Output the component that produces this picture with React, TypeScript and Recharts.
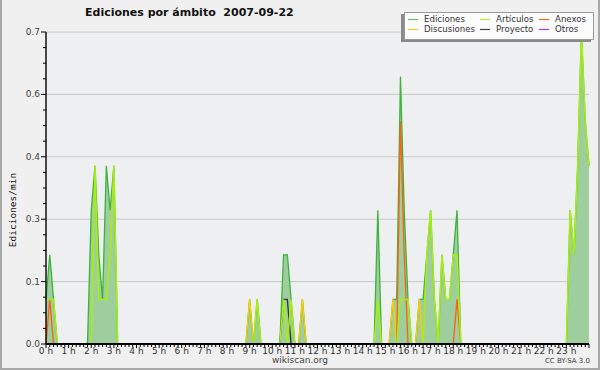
import { ComposedChart, Area, Line, XAxis, YAxis, CartesianGrid } from "recharts";

// one point every 10 minutes, 0 h .. 24 h
const TIMES = Array.from({ length: 145 }, (_, i) => i * 10);

// edits per minute, 12 points (2 hours) per row
const EDICIONES = [
  0.1, 0.2, 0.1, 0, 0, 0, 0, 0, 0, 0, 0, 0,
  0.3, 0.4, 0.2, 0.1, 0.4, 0.3, 0.4, 0, 0, 0, 0, 0,
  0, 0, 0, 0, 0, 0, 0, 0, 0, 0, 0, 0,
  0, 0, 0, 0, 0, 0, 0, 0, 0, 0, 0, 0,
  0, 0, 0, 0, 0, 0, 0.1, 0, 0.1, 0, 0, 0,
  0, 0, 0, 0.2, 0.2, 0.1, 0, 0, 0.1, 0, 0, 0,
  0, 0, 0, 0, 0, 0, 0, 0, 0, 0, 0, 0,
  0, 0, 0, 0, 0.3, 0, 0, 0, 0.1, 0.1, 0.6, 0.3,
  0.1, 0, 0, 0.1, 0.1, 0.2, 0.3, 0.1, 0, 0.2, 0.1, 0.1,
  0.2, 0.3, 0, 0, 0, 0, 0, 0, 0, 0, 0, 0,
  0, 0, 0, 0, 0, 0, 0, 0, 0, 0, 0, 0,
  0, 0, 0, 0, 0, 0, 0, 0.3, 0.2, 0.4, 0.7, 0.5,
  0.4,
];

const ARTICULOS = [
  0.1, 0.1, 0.1, 0, 0, 0, 0, 0, 0, 0, 0, 0,
  0, 0.4, 0.1, 0.1, 0.1, 0.2, 0.4, 0, 0, 0, 0, 0,
  0, 0, 0, 0, 0, 0, 0, 0, 0, 0, 0, 0,
  0, 0, 0, 0, 0, 0, 0, 0, 0, 0, 0, 0,
  0, 0, 0, 0, 0, 0, 0, 0, 0.1, 0, 0, 0,
  0, 0, 0, 0.1, 0, 0.1, 0, 0, 0, 0, 0, 0,
  0, 0, 0, 0, 0, 0, 0, 0, 0, 0, 0, 0,
  0, 0, 0, 0, 0.1, 0, 0, 0, 0, 0, 0.1, 0.1,
  0.1, 0, 0, 0, 0, 0.2, 0.3, 0.1, 0, 0.2, 0.1, 0.1,
  0.2, 0.2, 0, 0, 0, 0, 0, 0, 0, 0, 0, 0,
  0, 0, 0, 0, 0, 0, 0, 0, 0, 0, 0, 0,
  0, 0, 0, 0, 0, 0, 0, 0.3, 0.2, 0.4, 0.7, 0.5,
  0.4,
];

const ANEXOS = [
  0, 0.1, 0, 0, 0, 0, 0, 0, 0, 0, 0, 0,
  0, 0, 0, 0, 0, 0, 0, 0, 0, 0, 0, 0,
  0, 0, 0, 0, 0, 0, 0, 0, 0, 0, 0, 0,
  0, 0, 0, 0, 0, 0, 0, 0, 0, 0, 0, 0,
  0, 0, 0, 0, 0, 0, 0, 0, 0, 0, 0, 0,
  0, 0, 0, 0, 0, 0, 0, 0, 0, 0, 0, 0,
  0, 0, 0, 0, 0, 0, 0, 0, 0, 0, 0, 0,
  0, 0, 0, 0, 0, 0, 0, 0, 0, 0, 0.5, 0.2,
  0, 0, 0, 0, 0, 0, 0, 0, 0, 0, 0, 0,
  0, 0.1, 0, 0, 0, 0, 0, 0, 0, 0, 0, 0,
  0, 0, 0, 0, 0, 0, 0, 0, 0, 0, 0, 0,
  0, 0, 0, 0, 0, 0, 0, 0, 0, 0, 0, 0,
  0,
];

const DISCUSIONES = [
  0, 0, 0, 0, 0, 0, 0, 0, 0, 0, 0, 0,
  0, 0, 0, 0, 0, 0, 0, 0, 0, 0, 0, 0,
  0, 0, 0, 0, 0, 0, 0, 0, 0, 0, 0, 0,
  0, 0, 0, 0, 0, 0, 0, 0, 0, 0, 0, 0,
  0, 0, 0, 0, 0, 0, 0.1, 0, 0, 0, 0, 0,
  0, 0, 0, 0, 0, 0, 0, 0, 0.1, 0, 0, 0,
  0, 0, 0, 0, 0, 0, 0, 0, 0, 0, 0, 0,
  0, 0, 0, 0, 0, 0, 0, 0, 0.1, 0, 0, 0,
  0, 0, 0, 0.1, 0, 0, 0, 0, 0, 0, 0, 0,
  0, 0, 0, 0, 0, 0, 0, 0, 0, 0, 0, 0,
  0, 0, 0, 0, 0, 0, 0, 0, 0, 0, 0, 0,
  0, 0, 0, 0, 0, 0, 0, 0, 0, 0, 0, 0,
  0,
];

const PROYECTO = [
  0, 0, 0, 0, 0, 0, 0, 0, 0, 0, 0, 0,
  0, 0, 0, 0, 0, 0, 0, 0, 0, 0, 0, 0,
  0, 0, 0, 0, 0, 0, 0, 0, 0, 0, 0, 0,
  0, 0, 0, 0, 0, 0, 0, 0, 0, 0, 0, 0,
  0, 0, 0, 0, 0, 0, 0, 0, 0, 0, 0, 0,
  0, 0, 0, 0.1, 0.1, 0, 0, 0, 0, 0, 0, 0,
  0, 0, 0, 0, 0, 0, 0, 0, 0, 0, 0, 0,
  0, 0, 0, 0, 0, 0, 0, 0, 0, 0, 0, 0,
  0, 0, 0, 0, 0, 0, 0, 0, 0, 0, 0, 0,
  0, 0, 0, 0, 0, 0, 0, 0, 0, 0, 0, 0,
  0, 0, 0, 0, 0, 0, 0, 0, 0, 0, 0, 0,
  0, 0, 0, 0, 0, 0, 0, 0, 0, 0, 0, 0,
  0,
];

const HOUR_LABELS = [
  "0 h", "1 h", "2 h", "3 h", "4 h", "5 h", "6 h", "7 h", "8 h", "9 h", "10 h", "11 h",
  "12 h", "13 h", "14 h", "15 h", "16 h", "17 h", "18 h", "19 h", "20 h", "21 h", "22 h", "23 h",
];

const Y_MAJOR = [0, 0.14, 0.28, 0.42, 0.56, 0.7];
const Y_TICKS = [
  0, 0.035, 0.07, 0.105, 0.14, 0.175, 0.21, 0.245, 0.28, 0.315, 0.35,
  0.385, 0.42, 0.455, 0.49, 0.525, 0.56, 0.595, 0.63, 0.665, 0.7,
];

const SERIES = [
  { key: "ediciones", name: "Ediciones", color: "#3cb43c", legend: "#66c266" },
  { key: "articulos", name: "Artículos", color: "#aaee11", legend: "#bbe833" },
  { key: "anexos", name: "Anexos", color: "#ff6010", legend: "#f06a30" },
  { key: "discusiones", name: "Discusiones", color: "#ffcc00", legend: "#f5c822" },
  { key: "proyecto", name: "Proyecto", color: "#333333", legend: "#444444" },
  { key: "otros", name: "Otros", color: "#9933ff", legend: "#8f44ee" },
];

const data = TIMES.map((t, i) => ({
  t,
  ediciones: EDICIONES[i],
  articulos: ARTICULOS[i],
  anexos: ANEXOS[i],
  discusiones: DISCUSIONES[i],
  proyecto: PROYECTO[i],
  otros: 0,
}));

const FONT = "'DejaVu Sans', sans-serif";
const W = 600;
const H = 370;

function XTick(props: any) {
  const { x, y, payload } = props;
  const v = payload.value as number;
  const hour = v % 60 === 0;
  const label = hour ? HOUR_LABELS[v / 60] : undefined;
  return (
    <g>
      <line x1={x} x2={x} y1={y} y2={y + (hour ? 4 : 3)} stroke="#000" />
      {label && (
        <text x={x} y={y + 10} textAnchor="middle" fontSize={9} fill="#333" fontFamily={FONT}>
          {label}
        </text>
      )}
    </g>
  );
}

function YTick(props: any) {
  const { x, y, payload } = props;
  const v = payload.value as number;
  const major = Y_MAJOR.some((m) => Math.abs(m - v) < 1e-6);
  return (
    <g>
      <line x1={x - (major ? 5 : 3)} x2={x} y1={y} y2={y} stroke="#000" />
      {major && (
        <text x={x - 6} y={y + 3} textAnchor="end" fontSize={9} fill="#444" fontFamily={FONT}>
          {v.toFixed(1)}
        </text>
      )}
    </g>
  );
}

function Legend() {
  const cols = [
    [SERIES[0], SERIES[3]],
    [SERIES[1], SERIES[4]],
    [SERIES[2], SERIES[5]],
  ];
  const colX = [3, 75, 134];
  return (
    <div
      style={{
        position: "absolute",
        left: 404,
        top: 12,
        width: 188,
        height: 26,
        background: "#fcfcfc",
        border: "1px solid #9a9a9a",
        boxShadow: "-3px 2px 0 #8a8a8a",
        fontFamily: FONT,
        fontSize: 8.6,
        color: "#333",
      }}
    >
      {cols.map((col, ci) =>
        col.map((s, ri) => (
          <div
            key={s.key}
            style={{
              position: "absolute",
              left: colX[ci],
              top: ri * 10,
              height: 12,
              lineHeight: "12px",
              whiteSpace: "nowrap",
            }}
          >
            <svg width={10} height={12} style={{ verticalAlign: "top", marginRight: 6 }}>
              <line x1={0} x2={10} y1={6.5} y2={6.5} stroke={s.legend} strokeWidth={1.2} />
            </svg>
            {s.name}
          </div>
        ))
      )}
    </div>
  );
}

// plot area: x 46..589, y 32..344
const PLOT_MARGIN = { top: 32, right: 11, bottom: 26, left: 46 };

export default function App() {
  return (
    <div
      style={{
        position: "absolute",
        left: 0,
        top: 0,
        width: W,
        height: H,
        background: "#f0f0f0",
        overflow: "hidden",
      }}
    >
      {/* series layer */}
      <div style={{ position: "absolute", left: 0, top: 0 }}>
        <ComposedChart width={W} height={H} data={data} margin={PLOT_MARGIN}>
          <CartesianGrid
            vertical={false}
            horizontalValues={Y_MAJOR}
            stroke="#c8c8c8"
            fill="#eeeff1"
          />
          <XAxis dataKey="t" type="number" domain={[0, 1440]} hide />
          <YAxis type="number" domain={[0, 0.7]} hide />
          <Area
            type="linear"
            dataKey="ediciones"
            stroke="#3cb43c"
            strokeWidth={1.3}
            fill="#9ecd9e"
            fillOpacity={1}
            isAnimationActive={false}
          />
          <Line type="linear" dataKey="otros" stroke="#9933ff" dot={false} strokeWidth={1.3} isAnimationActive={false} />
          <Line type="linear" dataKey="proyecto" stroke="#333333" dot={false} strokeWidth={1.3} isAnimationActive={false} />
          <Line type="linear" dataKey="discusiones" stroke="#ffcc00" dot={false} strokeWidth={1.3} isAnimationActive={false} />
          <Line type="linear" dataKey="anexos" stroke="#ff6010" dot={false} strokeWidth={1.3} isAnimationActive={false} />
          <Line type="linear" dataKey="articulos" stroke="#aaee11" dot={false} strokeWidth={1.5} isAnimationActive={false} />
        </ComposedChart>
      </div>

      {/* axes layer, drawn on top of the series */}
      <div style={{ position: "absolute", left: 0, top: 0 }}>
        <ComposedChart
          width={W}
          height={H}
          data={data}
          margin={{ top: 32, right: 11, bottom: 0, left: 0 }}
        >
          <Line
            type="linear"
            dataKey="ediciones"
            stroke="none"
            dot={false}
            activeDot={false}
            isAnimationActive={false}
          />
          <XAxis
            dataKey="t"
            type="number"
            domain={[0, 1440]}
            ticks={TIMES}
            interval={0}
            height={26}
            tickSize={0}
            tickMargin={0}
            tickLine={false}
            axisLine={{ stroke: "#000", strokeWidth: 1.8 }}
            tick={<XTick />}
          />
          <YAxis
            type="number"
            domain={[0, 0.7]}
            ticks={Y_TICKS}
            interval={0}
            width={46}
            tickSize={0}
            tickMargin={0}
            tickLine={false}
            axisLine={{ stroke: "#000", strokeWidth: 1.4 }}
            tick={<YTick />}
          />
        </ComposedChart>
      </div>

      <div
        style={{
          position: "absolute",
          left: 85,
          top: 6,
          fontFamily: FONT,
          fontWeight: "bold",
          fontSize: 11,
          whiteSpace: "pre",
          color: "#111",
        }}
      >
        {"Ediciones por ámbito  2007-09-22"}
      </div>

      <div
        style={{
          position: "absolute",
          left: 12,
          top: 210,
          transform: "translate(-50%, -50%) rotate(-90deg)",
          fontFamily: "'DejaVu Sans Mono', monospace",
          fontSize: 9.5,
          whiteSpace: "nowrap",
          color: "#111",
        }}
      >
        Ediciones/min
      </div>

      <div
        style={{
          position: "absolute",
          left: 300,
          top: 355,
          transform: "translateX(-50%)",
          fontFamily: FONT,
          fontSize: 9,
          color: "#444",
        }}
      >
        wikiscan.org
      </div>

      <div
        style={{
          position: "absolute",
          right: 10,
          top: 357,
          fontFamily: FONT,
          fontSize: 7,
          color: "#444",
        }}
      >
        CC BY-SA 3.0
      </div>

      <Legend />

      <div
        style={{
          position: "absolute",
          left: 0,
          top: 0,
          width: W,
          height: H,
          boxSizing: "border-box",
          borderLeft: "2px solid #a8a8a8",
          borderRight: "2px solid #a8a8a8",
          borderBottom: "2px solid #a8a8a8",
          pointerEvents: "none",
        }}
      />
    </div>
  );
}
